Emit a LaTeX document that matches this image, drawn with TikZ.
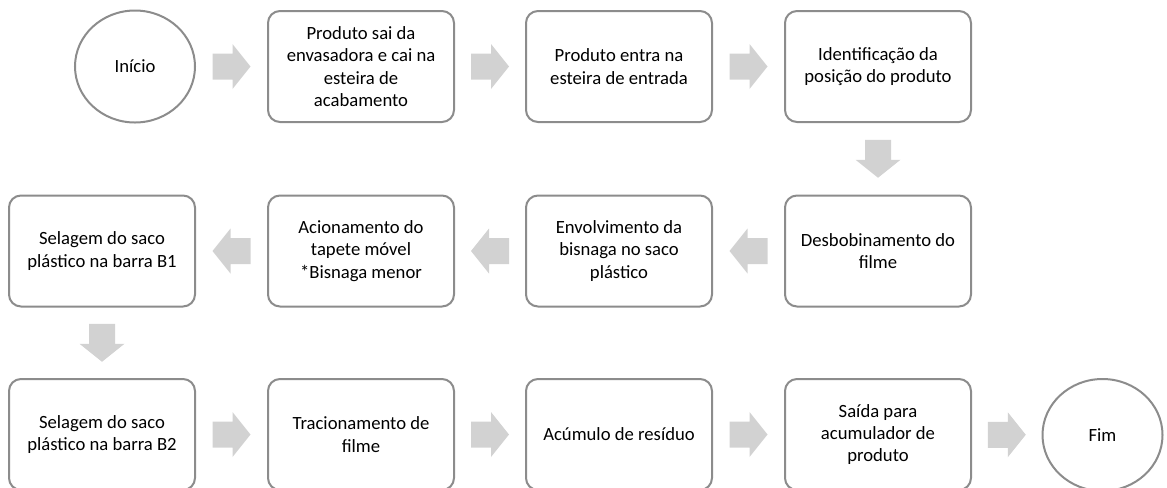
\documentclass[tikz,border=0pt]{standalone}
\usepackage{fontspec}
\setmainfont{Carlito}
\usetikzlibrary{calc,shapes.geometric}
\definecolor{edgegray}{RGB}{140,140,140}
\definecolor{arrowgray}{RGB}{210,210,210}
\tikzset{
  stepbox/.style={draw=edgegray, line width=1.5pt, rounded corners=9pt, fill=white,
    minimum width=186*0.75pt, minimum height=111*0.75pt, align=center,
    font=\fontsize{14pt}{16.8pt}\selectfont, inner sep=2pt},
  terminal/.style={draw=edgegray, line width=1.5pt, ellipse, fill=white,
    minimum width=120*0.75pt, minimum height=112*0.75pt, inner sep=0pt, align=center,
    font=\fontsize{14pt}{16.8pt}\selectfont},
  barrow/.pic={\fill[arrowgray] (-19,-13) -- (1,-13) -- (1,-22.5) -- (19,0) -- (1,22.5) -- (1,13) -- (-19,13) -- cycle;}
}
\begin{document}
\begin{tikzpicture}[x=0.75pt, y=-0.75pt]
\useasboundingbox (0,0) rectangle (1167,487);
% row 1
\node[terminal] (ini) at (135,66.5) {Início};
\node[stepbox] (p1) at (361,66.5) {Produto sai da\\envasadora e cai na\\esteira de\\acabamento};
\node[stepbox] (p2) at (619,66.5) {Produto entra na\\esteira de entrada};
\node[stepbox] (p3) at (878,66.5) {Identificação da\\posição do produto};
% row 2
\node[stepbox] (p4) at (878,251) {Desbobinamento do\\filme};
\node[stepbox] (p5) at (619,251) {Envolvimento da\\bisnaga no saco\\plástico};
\node[stepbox] (p6) at (361,251) {Acionamento do\\tapete móvel\\*Bisnaga menor};
\node[stepbox] (p7) at (102,251) {Selagem do saco\\plástico na barra B1};
% row 3
\node[stepbox] (p8) at (102,434.5) {Selagem do saco\\plástico na barra B2};
\node[stepbox] (p9) at (361,434.5) {Tracionamento de\\filme};
\node[stepbox] (p10) at (619,434.5) {Acúmulo de resíduo};
\node[stepbox] (p11) at (878,434.5) {Saída para\\acumulador de\\produto};
\node[terminal] (fim) at (1102.5,435) {Fim};
% block arrows
\coordinate (a1) at ($(ini.east)!0.5!(p1.west)$);
\coordinate (a2) at ($(p1.east)!0.5!(p2.west)$);
\coordinate (a3) at ($(p2.east)!0.5!(p3.west)$);
\coordinate (a4) at ($(p3.south)!0.5!(p4.north)$);
\coordinate (a5) at ($(p4.west)!0.5!(p5.east)$);
\coordinate (a6) at ($(p5.west)!0.5!(p6.east)$);
\coordinate (a7) at ($(p6.west)!0.5!(p7.east)$);
\coordinate (a8) at ($(p7.south)!0.5!(p8.north)$);
\coordinate (a9) at ($(p8.east)!0.5!(p9.west)$);
\coordinate (a10) at ($(p9.east)!0.5!(p10.west)$);
\coordinate (a11) at ($(p10.east)!0.5!(p11.west)$);
\coordinate (a12) at ($(p11.east)!0.5!(fim.west)$);
\foreach \c in {a1,a2,a3,a9,a10,a11,a12} {\pic at (\c) {barrow};}
\foreach \c in {a5,a6,a7} {\pic[rotate=180] at (\c) {barrow};}
\foreach \c in {a4,a8} {\pic[rotate=-90] at (\c) {barrow};}
\end{tikzpicture}
\end{document}
